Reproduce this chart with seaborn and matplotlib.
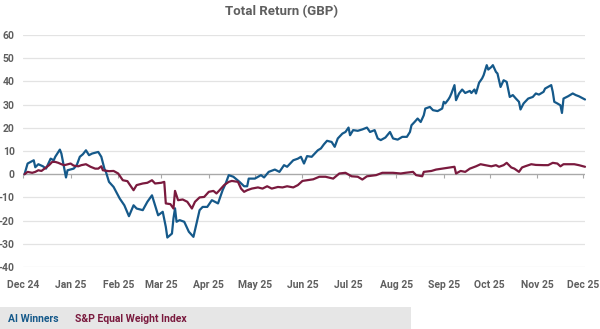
import matplotlib
matplotlib.use("Agg")
import matplotlib.pyplot as plt
import matplotlib.dates as mdates
from matplotlib.patches import Rectangle
import seaborn as sns
import pandas as pd

# ---- data ----
ai_dates = ["2024-12-02","2024-12-04","2024-12-08","2024-12-09","2024-12-11","2024-12-14","2024-12-16",
            "2024-12-19","2024-12-21","2024-12-22","2024-12-25","2024-12-26","2024-12-29","2024-12-30",
            "2025-01-03","2025-01-05","2025-01-07","2025-01-09","2025-01-11","2025-01-13","2025-01-15",
            "2025-01-19","2025-01-21","2025-01-23","2025-01-24","2025-01-26","2025-01-29","2025-02-02",
            "2025-02-05","2025-02-08","2025-02-11","2025-02-13","2025-02-17","2025-02-20","2025-02-23",
            "2025-02-27","2025-03-02","2025-03-04","2025-03-05","2025-03-08","2025-03-09","2025-03-10",
            "2025-03-11","2025-03-13","2025-03-16","2025-03-19","2025-03-22","2025-03-26","2025-03-28",
            "2025-03-31","2025-04-03","2025-04-07","2025-04-10","2025-04-12","2025-04-14","2025-04-17",
            "2025-04-21","2025-04-24","2025-04-26","2025-04-27","2025-05-01","2025-05-05","2025-05-07",
            "2025-05-10","2025-05-14","2025-05-17","2025-05-20","2025-05-22","2025-05-26","2025-05-29",
            "2025-05-31","2025-06-02","2025-06-04","2025-06-07","2025-06-09","2025-06-11","2025-06-13",
            "2025-06-15","2025-06-17","2025-06-20","2025-06-22","2025-06-24","2025-06-27","2025-06-29",
            "2025-07-01","2025-07-02","2025-07-04","2025-07-07","2025-07-10","2025-07-13","2025-07-15",
            "2025-07-18","2025-07-20","2025-07-22","2025-07-25","2025-07-28","2025-07-30","2025-08-02",
            "2025-08-05","2025-08-08","2025-08-10","2025-08-11","2025-08-13","2025-08-15","2025-08-17",
            "2025-08-19","2025-08-20","2025-08-23","2025-08-25","2025-08-28","2025-08-31","2025-09-01",
            "2025-09-02","2025-09-04","2025-09-05","2025-09-06","2025-09-08","2025-09-09","2025-09-11",
            "2025-09-13","2025-09-15","2025-09-18","2025-09-19","2025-09-21","2025-09-22","2025-09-24",
            "2025-09-26","2025-09-27","2025-09-29","2025-09-30","2025-10-02","2025-10-03","2025-10-05",
            "2025-10-06","2025-10-08","2025-10-10","2025-10-12","2025-10-14","2025-10-16","2025-10-18",
            "2025-10-20","2025-10-21","2025-10-23","2025-10-26","2025-10-29","2025-10-31","2025-11-02",
            "2025-11-05","2025-11-06","2025-11-10","2025-11-11","2025-11-12","2025-11-14","2025-11-16",
            "2025-11-17","2025-11-18","2025-11-21","2025-11-24","2025-11-26","2025-11-28","2025-12-02"]
ai_values = [0, 4.6, 6.0, 3.0, 4.3, 3.4, 2.4,
             6.7, 6.0, 7.5, 10.6, 8.9, -1.4, 1.7,
             2.4, 3.9, 7.5, 8.6, 10.3, 8.2, 8.9,
             9.6, 7.5, 2.4, 1.0, -3.3, -5.5, -10.5,
             -13.4, -18.1, -13.4, -14.8, -15.5, -11.9, -9.1,
             -17.7, -16.2, -22.7, -27.3, -25.6, -19.0, -14.7,
             -20.5, -19.8, -20.5, -24.8, -27.0, -15.5, -14.1,
             -14.1, -11.2, -12.6, -6.9, -4.0, -0.4, -1.1,
             -3.3, -5.2, -5.2, -1.9, -1.9, -0.4, -1.4,
             1.0, 2.0, 1.0, 3.9, 3.2, 6.0, 6.7,
             7.5, 4.6, 7.8, 7.5, 8.9, 10.3, 11.1,
             12.9, 14.4, 13.9, 11.8, 15.4, 17.5, 18.2,
             20.1, 16.8, 19.0, 18.7, 19.3, 20.1, 18.2,
             19.0, 15.4, 14.7, 15.8, 18.2, 15.4, 14.9,
             16.1, 16.1, 18.2, 21.1, 22.5, 24.0, 22.5,
             25.4, 28.3, 29.0, 27.6, 27.2, 28.3, 31.2,
             30.5, 32.2, 33.3, 34.8, 38.4, 31.9, 34.8,
             36.5, 35.0, 35.9, 35.0, 36.5, 34.8, 39.4,
             41.3, 42.7, 47.0, 45.1, 46.2, 47.0, 44.1,
             43.4, 37.6, 40.5, 39.8, 33.3, 34.1, 32.6,
             31.2, 27.9, 30.5, 32.6, 33.3, 34.8, 34.3,
             35.5, 36.9, 38.4, 35.5, 31.2, 30.5, 29.7,
             26.4, 32.6, 33.6, 34.8, 34.1, 33.6, 32.2]

ew_dates = ["2024-12-02","2024-12-04","2024-12-07","2024-12-09","2024-12-11","2024-12-13","2024-12-15",
            "2024-12-18","2024-12-20","2024-12-22","2024-12-24","2024-12-26","2024-12-28","2025-01-01",
            "2025-01-03","2025-01-06","2025-01-08","2025-01-11","2025-01-14","2025-01-17","2025-01-19",
            "2025-01-21","2025-01-22","2025-01-26","2025-01-29","2025-02-01","2025-02-04","2025-02-07",
            "2025-02-08","2025-02-11","2025-02-13","2025-02-17","2025-02-20","2025-02-23","2025-02-25",
            "2025-03-01","2025-03-03","2025-03-04","2025-03-07","2025-03-09","2025-03-10","2025-03-12",
            "2025-03-15","2025-03-18","2025-03-21","2025-03-23","2025-03-26","2025-03-29","2025-04-01",
            "2025-04-04","2025-04-06","2025-04-08","2025-04-11","2025-04-14","2025-04-16","2025-04-20",
            "2025-04-22","2025-04-24","2025-04-26","2025-04-29","2025-05-03","2025-05-06","2025-05-09",
            "2025-05-12","2025-05-16","2025-05-19","2025-05-22","2025-05-26","2025-05-29","2025-06-01",
            "2025-06-04","2025-06-08","2025-06-12","2025-06-16","2025-06-21","2025-06-25","2025-06-29",
            "2025-07-03","2025-07-07","2025-07-10","2025-07-13","2025-07-19","2025-07-23","2025-07-30",
            "2025-08-04","2025-08-07","2025-08-12","2025-08-14","2025-08-18","2025-08-19","2025-08-24",
            "2025-08-27","2025-08-31","2025-09-05","2025-09-08","2025-09-09","2025-09-12","2025-09-15",
            "2025-09-18","2025-09-22","2025-09-25","2025-09-28","2025-10-02","2025-10-05","2025-10-07",
            "2025-10-10","2025-10-12","2025-10-15","2025-10-17","2025-10-20","2025-10-22","2025-10-24",
            "2025-10-28","2025-10-31","2025-11-05","2025-11-08","2025-11-11","2025-11-14","2025-11-16",
            "2025-11-18","2025-11-22","2025-11-25","2025-11-28","2025-12-02"]
ew_values = [0, 1.0, 0.6, 1.0, 1.7, 1.4, 2.4,
             3.9, 5.3, 5.3, 4.9, 4.3, 3.9, 4.6,
             3.7, 3.4, 3.9, 4.3, 3.2, 2.4, 2.4,
             3.4, 1.7, 1.3, 1.4, 0.3, -2.6, -3.0,
             -4.0, -6.9, -4.7, -4.0, -3.7, -2.6, -4.0,
             -3.7, -3.3, -12.6, -12.9, -14.8, -7.2, -11.2,
             -10.9, -11.9, -14.8, -11.9, -10.0, -9.8, -7.6,
             -7.2, -8.3, -6.9, -4.7, -3.3, -2.9, -3.3,
             -6.2, -7.6, -6.9, -6.2, -5.7, -6.2, -5.2,
             -6.2, -5.5, -5.7, -5.2, -5.7, -4.7, -2.9,
             -2.6, -2.2, -1.1, -1.1, -1.9, 0.3, 0.6,
             -0.9, -1.1, -2.3, -0.9, -0.4, 0.6, 0.6,
             0.3, 0.6, 1.0, -0.4, -0.9, 1.0, 1.4,
             2.0, 2.4, 2.9, 3.2, 0.3, 1.4, 1.0,
             2.4, 3.4, 4.3, 3.9, 3.4, 3.9, 3.2,
             3.9, 4.9, 2.9, 2.4, 1.0, 2.9, 3.4,
             4.3, 4.0, 3.9, 3.9, 4.9, 4.6, 3.4,
             4.3, 4.3, 4.3, 3.9, 3.2]

series_names = ["AI Winners", "S&P Equal Weight Index"]
series_colors = ["#15598a", "#7a1a3e"]
y_ticks = [-40, -30, -20, -10, 0, 10, 20, 30, 40, 50, 60]
title_text = "Total Return (GBP)"

df = pd.concat([
    pd.DataFrame({"date": pd.to_datetime(ai_dates), "value": ai_values, "series": series_names[0]}),
    pd.DataFrame({"date": pd.to_datetime(ew_dates), "value": ew_values, "series": series_names[1]}),
], ignore_index=True)

sns.set_theme(style="white")
plt.rcParams["font.family"] = ["Roboto", "DejaVu Sans"]
plt.rcParams["axes.unicode_minus"] = False

W, H = 600, 329
fig = plt.figure(figsize=(W / 100, H / 100), dpi=100)
ax_left, ax_right, ax_top, ax_bottom = 23, 585, 35, 267
ax = fig.add_axes([ax_left / W, 1 - ax_bottom / H, (ax_right - ax_left) / W, (ax_bottom - ax_top) / H])

grey = "#5f5f5f"
for yv in y_ticks:
    ax.axhline(yv, color="#a9a9a9" if yv == 0 else "#e3e3e3", lw=1.0 if yv == 0 else 0.9, zorder=0)

sns.lineplot(data=df, x="date", y="value", hue="series", palette=dict(zip(series_names, series_colors)),
             hue_order=series_names, linewidth=1.6, legend=False, ax=ax, estimator=None, sort=True,
             clip_on=False)

ax.set_ylim(-40, 60)
ax.set_xlim(pd.Timestamp("2024-12-01"), pd.Timestamp("2025-12-02"))
ax.set_yticks(y_ticks)
ax.set_yticklabels([str(v) for v in y_ticks], fontsize=7.5, fontweight="bold", color=grey)
ax.xaxis.set_major_locator(mdates.MonthLocator())
ax.xaxis.set_major_formatter(mdates.DateFormatter("%b %y"))
ax.tick_params(axis="x", length=0, pad=9, labelsize=7.5, labelcolor=grey)
ax.tick_params(axis="y", length=0, pad=6)
for lab in ax.get_xticklabels():
    lab.set_fontweight("bold")
ax.set_xlabel("")
ax.set_ylabel("")
for s in ax.spines.values():
    s.set_visible(False)
ax.grid(False)

# small tick marks on the zero line
sec = ax.secondary_xaxis(0.4)
sec.xaxis.set_major_locator(mdates.MonthLocator())
sec.tick_params(axis="x", length=3, width=0.8, color="#a9a9a9", direction="out", labelbottom=False)
sec.set_xticklabels([])
for s in sec.spines.values():
    s.set_visible(False)

fig.text(282 / W, 1 - 12 / H, title_text, ha="center", va="center", fontsize=9.5, fontweight="bold", color=grey)

# legend band
fig.patches.append(Rectangle((0, 0), 411 / W, 22 / H, transform=fig.transFigure,
                             facecolor="#e6e6e6", edgecolor="none", zorder=0))
fig.text(8 / W, 1 - 319 / H, series_names[0], ha="left", va="center", fontsize=7.5,
         fontweight="bold", color=series_colors[0])
fig.text(75 / W, 1 - 319 / H, series_names[1], ha="left", va="center", fontsize=7.5,
         fontweight="bold", color=series_colors[1])

fig.savefig("out.png", dpi=100)
